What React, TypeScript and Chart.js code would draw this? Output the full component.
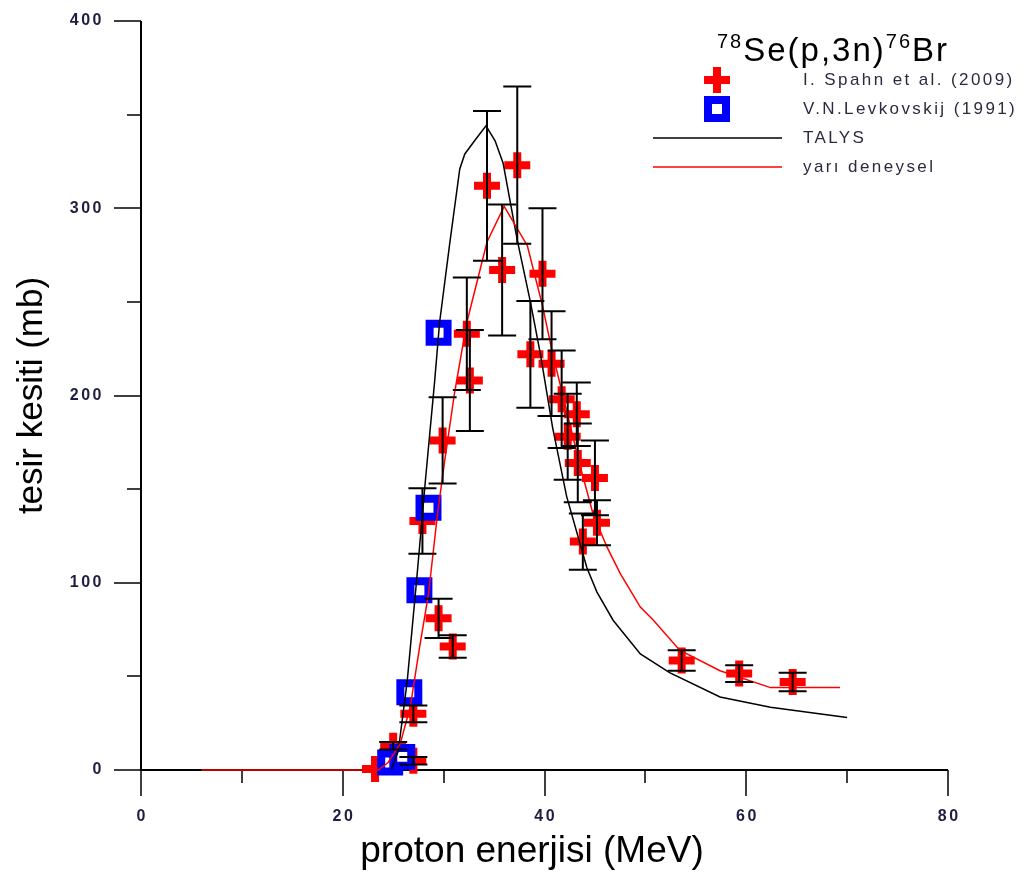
import React, { useEffect, useRef } from 'react';
import { Chart, registerables } from 'chart.js';

Chart.register(...registerables);

// I. Spahn et al. (2009)
const spahnE = [23.2, 25.0, 27.0, 27.0, 27.9, 29.5, 29.9, 30.9, 32.3, 32.6, 34.3, 35.8, 37.3, 38.6, 39.8, 40.7, 41.7, 42.3, 43.2, 43.3, 43.8, 45.0, 45.2, 53.6, 59.3, 64.6];
const spahnS = [0.5, 13, 5, 30, 133, 81, 176, 66, 233, 208, 312, 267, 323, 222, 265, 217, 198, 178, 190, 164, 122, 156, 132, 58.5, 51.5, 47];
const spahnErr = [0, 2, 2, 4.5, 17.5, 10.5, 23, 6, 30, 27, 40, 35, 42, 28.5, 35, 28, 26, 23, 17, 21, 15, 20, 12, 5.5, 4.5, 5];

// V.N.Levkovskij (1991)
const levE = [24.7, 25.9, 26.6, 27.6, 28.5, 29.5];
const levS = [4, 7, 41.5, 96, 140, 233.5];

// TALYS
const talysE = [24.8, 25.5, 26.4, 27.3, 28.2, 29.1, 29.6, 30.6, 31.6, 32.1, 33.2, 34.2, 35.1, 35.9, 37.3, 38.6, 39.6, 40.8, 42.2, 44.2, 45.2, 46.8, 49.5, 52.4, 57.4, 62.4, 70.0];
const talysS = [0, 10, 48, 100, 155, 207, 239, 281, 321, 329, 337, 344, 336, 324, 283, 250, 222, 183, 146, 108, 95, 80, 62, 52, 39, 33.5, 28];

// yarı deneysel
const semiE = [6, 23.5, 24.5, 25.7, 26.7, 27.6, 28.5, 29.4, 30.1, 31.1, 32.3, 34.3, 36.0, 38.3, 39.8, 40.7, 41.5, 43.5, 44.8, 46.2, 47.5, 49.5, 50.8, 53.4, 57.4, 62.4, 69.3];
const semiS = [0, 0, 4, 14, 34, 65, 94, 137, 165, 202, 239, 282, 301, 280, 248, 225, 207, 163, 137, 119, 105, 87, 80, 64, 53, 44, 44];

const xMajor = [0, 20, 40, 60, 80];
const xMinor = [10, 30, 50, 70];
const yMajor = [0, 100, 200, 300, 400];
const yMinor = [50, 150, 250, 350];

const xTitle = 'proton enerjisi (MeV)';
const yTitle = 'tesir kesiti (mb)';
const legendLabels = ['I. Spahn et al. (2009)', 'V.N.Levkovskij (1991)', 'TALYS', 'yarı deneysel'];

const FONT = '"Liberation Sans", Arial, sans-serif';

function pts(xs: number[], ys: number[]) {
  return xs.map((v, i) => ({ x: v, y: ys[i] }));
}

const axesPlugin = {
  id: 'customAxes',
  beforeDatasetsDraw(chart: any) {
    const { ctx, scales } = chart;
    const xs = scales.x;
    const ys = scales.y;
    const x0 = xs.getPixelForValue(0);
    const x80 = xs.getPixelForValue(80);
    const y0 = ys.getPixelForValue(0);
    const y400 = ys.getPixelForValue(400);
    ctx.save();
    ctx.strokeStyle = '#000';
    ctx.lineWidth = 2;
    ctx.beginPath();
    ctx.moveTo(x0, y400);
    ctx.lineTo(x0, y0);
    ctx.moveTo(x0, y0);
    ctx.lineTo(x80, y0);
    ctx.stroke();
    ctx.lineWidth = 1.5;
    ctx.beginPath();
    yMajor.forEach((v) => {
      const p = Math.round(ys.getPixelForValue(v));
      ctx.moveTo(x0 - 27, p);
      ctx.lineTo(x0, p);
    });
    yMinor.forEach((v) => {
      const p = Math.round(ys.getPixelForValue(v));
      ctx.moveTo(x0 - 14, p);
      ctx.lineTo(x0, p);
    });
    xMajor.forEach((v) => {
      const p = Math.round(xs.getPixelForValue(v));
      ctx.moveTo(p, y0);
      ctx.lineTo(p, y0 + 26);
    });
    xMinor.forEach((v) => {
      const p = Math.round(xs.getPixelForValue(v));
      ctx.moveTo(p, y0);
      ctx.lineTo(p, y0 + 13);
    });
    ctx.stroke();
    ctx.restore();
  },
  afterDatasetsDraw(chart: any) {
    const { ctx, scales } = chart;
    const xs = scales.x;
    const ys = scales.y;
    ctx.save();
    ctx.strokeStyle = '#000';
    ctx.lineWidth = 2;
    ctx.beginPath();
    spahnE.forEach((e, i) => {
      const err = spahnErr[i];
      if (!err) return;
      const px = xs.getPixelForValue(e);
      const top = ys.getPixelForValue(spahnS[i] + err);
      const bot = ys.getPixelForValue(spahnS[i] - err);
      ctx.moveTo(px, top);
      ctx.lineTo(px, bot);
      ctx.moveTo(px - 14, top);
      ctx.lineTo(px + 14, top);
      ctx.moveTo(px - 14, bot);
      ctx.lineTo(px + 14, bot);
    });
    ctx.stroke();
    ctx.restore();
  },
  afterDraw(chart: any) {
    const { ctx, scales, chartArea } = chart;
    const xs = scales.x;
    const ys = scales.y;
    const y0 = ys.getPixelForValue(0);
    ctx.save();
    // tick labels
    ctx.fillStyle = '#1e1e40';
    ctx.font = `bold 16px ${FONT}`;
    (ctx as any).letterSpacing = '2.5px';
    ctx.textAlign = 'right';
    ctx.textBaseline = 'middle';
    yMajor.forEach((v) => {
      ctx.fillText(String(v), 104, ys.getPixelForValue(v));
    });
    ctx.textAlign = 'center';
    xMajor.forEach((v) => {
      ctx.fillText(String(v), xs.getPixelForValue(v) + 1.25, y0 + 47);
    });
    // axis titles
    (ctx as any).letterSpacing = '0px';
    ctx.fillStyle = '#000';
    ctx.font = `37px ${FONT}`;
    ctx.textAlign = 'center';
    ctx.fillText(xTitle, 532, 852);
    ctx.font = `35px ${FONT}`;
    ctx.save();
    ctx.translate(32, (chartArea.top + chartArea.bottom) / 2);
    ctx.rotate(-Math.PI / 2);
    ctx.fillText(yTitle, 0, 0);
    ctx.restore();

    // legend title 78Se(p,3n)76Br
    ctx.textAlign = 'left';
    ctx.textBaseline = 'alphabetic';
    (ctx as any).letterSpacing = '2px';
    let tx = 717;
    const base = 61;
    const parts: [string, boolean][] = [['78', true], ['Se(p,3n)', false], ['76', true], ['Br', false]];
    parts.forEach(([t, sup]) => {
      ctx.font = sup ? `20px ${FONT}` : `33px ${FONT}`;
      const yy = sup ? base - 13 : base;
      ctx.fillText(t, tx, yy);
      tx += ctx.measureText(t).width;
    });

    // legend entries
    const ly = [80, 109, 138, 167];
    // cross
    ctx.fillStyle = '#ff0000';
    ctx.fillRect(717 - 13, ly[0] - 4, 26, 8);
    ctx.fillRect(717 - 4, ly[0] - 13, 8, 26);
    // square
    ctx.strokeStyle = '#0000ff';
    ctx.lineWidth = 8;
    ctx.strokeRect(717 - 9, ly[1] - 9, 18, 18);
    // lines
    ctx.lineWidth = 1.5;
    ctx.strokeStyle = '#000';
    ctx.beginPath();
    ctx.moveTo(653, ly[2]);
    ctx.lineTo(782, ly[2]);
    ctx.stroke();
    ctx.strokeStyle = '#ff0000';
    ctx.beginPath();
    ctx.moveTo(653, ly[3]);
    ctx.lineTo(782, ly[3]);
    ctx.stroke();
    ctx.fillStyle = '#2b2b40';
    ctx.font = `17px ${FONT}`;
    (ctx as any).letterSpacing = '2.4px';
    ctx.textBaseline = 'middle';
    legendLabels.forEach((l, i) => ctx.fillText(l, 803, ly[i]));
    ctx.restore();
  },
};

export default function App() {
  const ref = useRef<HTMLCanvasElement | null>(null);
  useEffect(() => {
    if (!ref.current) return;
    const chart = new Chart(ref.current, {
      type: 'scatter',
      data: {
        datasets: [
          {
            label: legendLabels[3],
            data: pts(semiE, semiS),
            showLine: true,
            borderColor: '#ff0000',
            borderWidth: 1.5,
            pointRadius: 0,
            tension: 0,
            order: 0,
            clip: false,
          } as any,
          {
            label: legendLabels[2],
            data: pts(talysE, talysS),
            showLine: true,
            borderColor: '#000000',
            borderWidth: 1.5,
            pointRadius: 0,
            tension: 0,
            order: 1,
            clip: false,
          } as any,
          {
            label: legendLabels[1],
            data: pts(levE, levS),
            pointStyle: 'rect',
            pointRadius: 12.7,
            pointBorderWidth: 8,
            pointBorderColor: '#0000ff',
            pointBackgroundColor: '#ffffff',
            showLine: false,
            order: 2,
            clip: false,
          } as any,
          {
            label: legendLabels[0],
            data: pts(spahnE, spahnS),
            pointStyle: 'cross',
            pointRadius: 13,
            pointBorderWidth: 8,
            pointBorderColor: '#ff0000',
            pointBackgroundColor: '#ff0000',
            showLine: false,
            order: 3,
            clip: false,
          } as any,
        ],
      },
      options: {
        responsive: false,
        animation: false,
        events: [],
        layout: { padding: { left: 141, right: 86, top: 18, bottom: 105 } },
        plugins: { legend: { display: false }, tooltip: { enabled: false }, title: { display: false } },
        scales: {
          x: { type: 'linear', min: 0, max: 80, display: false },
          y: { type: 'linear', min: 0, max: 400, display: false },
        },
      },
      plugins: [axesPlugin],
    });
    return () => chart.destroy();
  }, []);
  return (
    <div style={{ position: 'absolute', left: 0, top: 0, width: 1034, height: 875, background: '#fff' }}>
      <canvas ref={ref} width={1034} height={875} style={{ display: 'block' }} />
    </div>
  );
}
